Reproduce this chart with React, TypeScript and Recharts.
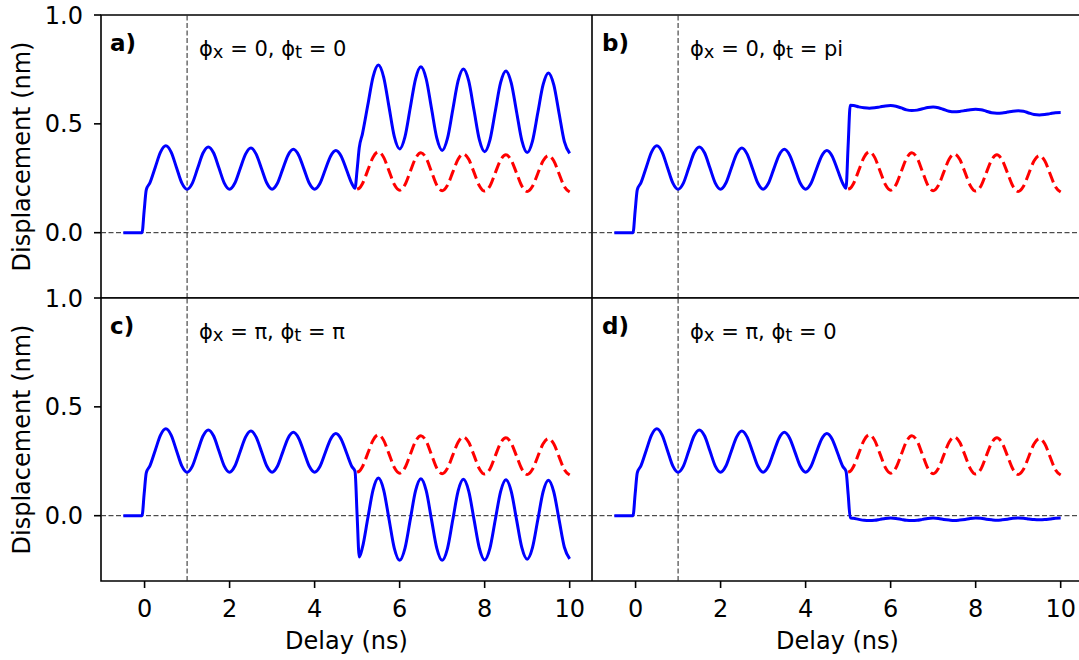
import React from 'react';
import { LineChart, Line, XAxis, YAxis, ReferenceLine, ReferenceArea } from 'recharts';

// first pulse: flat baseline then the step at t = 0
const riseDelay = [-0.5, -0.25, -0.06, -0.01, 0.04];
const riseDisp = [0, 0, 0, 0.1, 0.197];

const firstDelay = [
  0.125, 0.25, 0.375, 0.5, 0.625, 0.75, 0.875, 1.0,
  1.125, 1.25, 1.375, 1.5, 1.625, 1.75, 1.875, 2.0,
  2.125, 2.25, 2.375, 2.5, 2.625, 2.75, 2.875, 3.0,
  3.125, 3.25, 3.375, 3.5, 3.625, 3.75, 3.875, 4.0,
  4.125, 4.25, 4.375, 4.5, 4.625, 4.75, 4.875, 4.95,
];
const firstDisp = [
  0.229, 0.300, 0.370, 0.399, 0.370, 0.300, 0.229, 0.200,
  0.228, 0.297, 0.366, 0.394, 0.366, 0.297, 0.228, 0.200,
  0.228, 0.295, 0.361, 0.389, 0.361, 0.295, 0.228, 0.200,
  0.227, 0.292, 0.356, 0.383, 0.356, 0.292, 0.227, 0.200,
  0.226, 0.289, 0.351, 0.377, 0.351, 0.289, 0.226, 0.204,
];

// after the second pulse at t = 5
const secondDelay = [
  5.0, 5.05,
  5.125, 5.25, 5.375, 5.5, 5.625, 5.75, 5.875, 6.0,
  6.125, 6.25, 6.375, 6.5, 6.625, 6.75, 6.875, 7.0,
  7.125, 7.25, 7.375, 7.5, 7.625, 7.75, 7.875, 8.0,
  8.125, 8.25, 8.375, 8.5, 8.625, 8.75, 8.875, 9.0,
  9.125, 9.25, 9.375, 9.5, 9.625, 9.75, 9.875, 10.0,
];
// single pulse only (red dashed)
const singleDisp = [
  0.2, 0.204,
  0.225, 0.286, 0.347, 0.372, 0.346, 0.284, 0.221, 0.195,
  0.220, 0.281, 0.342, 0.367, 0.342, 0.280, 0.218, 0.193,
  0.218, 0.278, 0.337, 0.362, 0.337, 0.277, 0.216, 0.191,
  0.215, 0.275, 0.334, 0.358, 0.333, 0.274, 0.214, 0.189,
  0.213, 0.272, 0.330, 0.354, 0.330, 0.271, 0.211, 0.187,
];
const dispA = [
  0.29, 0.39,
  0.454, 0.585, 0.716, 0.770, 0.714, 0.578, 0.441, 0.385,
  0.440, 0.574, 0.707, 0.762, 0.706, 0.570, 0.434, 0.378,
  0.433, 0.565, 0.697, 0.752, 0.697, 0.562, 0.427, 0.372,
  0.426, 0.558, 0.689, 0.743, 0.688, 0.556, 0.423, 0.368,
  0.421, 0.551, 0.680, 0.734, 0.680, 0.549, 0.418, 0.364,
];
const dispB = [
  0.40, 0.585,
  0.584, 0.578, 0.574, 0.572, 0.574, 0.578, 0.582, 0.584,
  0.581, 0.573, 0.564, 0.561, 0.563, 0.569, 0.575, 0.577,
  0.574, 0.566, 0.558, 0.555, 0.557, 0.561, 0.565, 0.567,
  0.565, 0.558, 0.551, 0.549, 0.550, 0.554, 0.558, 0.560,
  0.558, 0.550, 0.543, 0.541, 0.543, 0.547, 0.551, 0.552,
];
const dispC = [
  0.0, -0.19,
  -0.146, -0.013, 0.119, 0.173, 0.118, -0.016, -0.150, -0.205,
  -0.150, -0.018, 0.115, 0.170, 0.115, -0.018, -0.150, -0.205,
  -0.151, -0.019, 0.113, 0.167, 0.113, -0.018, -0.149, -0.203,
  -0.149, -0.019, 0.111, 0.165, 0.112, -0.018, -0.147, -0.200,
  -0.147, -0.019, 0.110, 0.163, 0.110, -0.018, -0.145, -0.198,
];
const dispD = [
  0.1, -0.010,
  -0.012, -0.017, -0.021, -0.022, -0.021, -0.017, -0.013, -0.011,
  -0.013, -0.017, -0.021, -0.022, -0.021, -0.017, -0.013, -0.011,
  -0.013, -0.017, -0.020, -0.022, -0.020, -0.017, -0.013, -0.011,
  -0.012, -0.016, -0.019, -0.021, -0.019, -0.016, -0.012, -0.011,
  -0.012, -0.015, -0.018, -0.019, -0.018, -0.015, -0.012, -0.011,
];

const xTicks = [0, 2, 4, 6, 8, 10];
const yTicks = [0, 0.5, 1.0];
const xDomain = [-1.025, 10.525];
const yDomain = [-0.3, 1.0];

const toPoints = (ts: number[], vs: number[]) => ts.map((t, i) => ({ t, v: vs[i] }));
const firstPart = [...toPoints(riseDelay, riseDisp), ...toPoints(firstDelay, firstDisp)];
const singlePulse = toPoints(secondDelay, singleDisp);

const font = 'DejaVu Sans';
const tickStyle = { fill: '#000', fontSize: 24, fontFamily: font };
const spine = { stroke: '#000', strokeWidth: 1.6 };

interface PanelProps {
  second: number[];
  left: number;
  top: number;
  showY: boolean;
  showX: boolean;
}

const Panel: React.FC<PanelProps> = ({ second, left, top, showY, showX }) => {
  const blue = [...firstPart, ...toPoints(secondDelay, second)];
  return (
    <div style={{ position: 'absolute', left, top }}>
      <LineChart
        width={showY ? 592 : 491}
        height={showX ? 376 : 298}
        margin={{ top: showX ? 14 : 15, right: 0, bottom: 0, left: 0 }}
      >
        <XAxis
          dataKey="t"
          type="number"
          domain={xDomain}
          ticks={xTicks}
          interval={0}
          height={showX ? 79 : 0}
          tick={showX ? tickStyle : false}
          tickLine={showX ? spine : false}
          axisLine={false}
          tickSize={7}
          tickMargin={12}
        />
        <YAxis
          type="number"
          domain={yDomain}
          ticks={yTicks}
          interval={0}
          width={showY ? 101 : 0}
          tick={showY ? tickStyle : false}
          tickLine={showY ? spine : false}
          axisLine={false}
          tickSize={7}
          tickMargin={11}
          tickFormatter={(v: number) => v.toFixed(1)}
        />
        {/* axes frame */}
        <ReferenceArea
          x1={xDomain[0]}
          x2={xDomain[1]}
          y1={yDomain[0]}
          y2={yDomain[1]}
          ifOverflow="visible"
          fill="none"
          fillOpacity={0}
          stroke="#000"
          strokeWidth={1.6}
        />
        <ReferenceLine x={1} stroke="#222" strokeWidth={1} strokeDasharray="5 2.5" />
        <ReferenceLine y={0} stroke="#222" strokeWidth={1} strokeDasharray="5 2.5" />
        <Line data={blue} dataKey="v" type="monotone" stroke="#0000ff" strokeWidth={3} dot={false} isAnimationActive={false} />
        <Line data={singlePulse} dataKey="v" type="monotone" stroke="#ff0000" strokeWidth={3} strokeDasharray="11 5" dot={false} isAnimationActive={false} />
      </LineChart>
    </div>
  );
};

const Phase: React.FC<{ x: number; y: number; px: string; pt: string }> = ({ x, y, px, pt }) => (
  <text x={x} y={y} fontSize={21} fontFamily={font} fill="#000">
    ϕ<tspan fontSize={18} dy={1.5}>x</tspan>
    <tspan dy={-1.5}>{` = ${px}, ϕ`}</tspan>
    <tspan fontSize={18} dy={1.5}>t</tspan>
    <tspan dy={-1.5}>{` = ${pt}`}</tspan>
  </text>
);

export default function App() {
  return (
    <div style={{ position: 'absolute', left: 0, top: 0, width: 1079, height: 660, overflow: 'hidden', background: '#fff' }}>
      <Panel second={dispA} left={0} top={0} showY showX={false} />
      <Panel second={dispB} left={592} top={0} showY={false} showX={false} />
      <Panel second={dispC} left={0} top={284} showY showX />
      <Panel second={dispD} left={592} top={284} showY={false} showX />
      <svg width={1079} height={660} style={{ position: 'absolute', left: 0, top: 0, pointerEvents: 'none' }}>
        <text transform="translate(29.5,156.5) rotate(-90)" textAnchor="middle" fontSize={24} fontFamily={font}>Displacement (nm)</text>
        <text transform="translate(29.5,439.5) rotate(-90)" textAnchor="middle" fontSize={24} fontFamily={font}>Displacement (nm)</text>
        <text x={346.5} y={649} textAnchor="middle" fontSize={24} fontFamily={font}>Delay (ns)</text>
        <text x={837.5} y={649} textAnchor="middle" fontSize={24} fontFamily={font}>Delay (ns)</text>
        <text x={110} y={51} fontSize={23} fontWeight="bold" fontFamily={font}>a)</text>
        <text x={602} y={51} fontSize={23} fontWeight="bold" fontFamily={font}>b)</text>
        <text x={110} y={334} fontSize={23} fontWeight="bold" fontFamily={font}>c)</text>
        <text x={602} y={334} fontSize={23} fontWeight="bold" fontFamily={font}>d)</text>
        <Phase x={199} y={56} px="0" pt="0" />
        <Phase x={690} y={56} px="0" pt="pi" />
        <Phase x={199} y={339} px="π" pt="π" />
        <Phase x={690} y={339} px="π" pt="0" />
      </svg>
    </div>
  );
}
